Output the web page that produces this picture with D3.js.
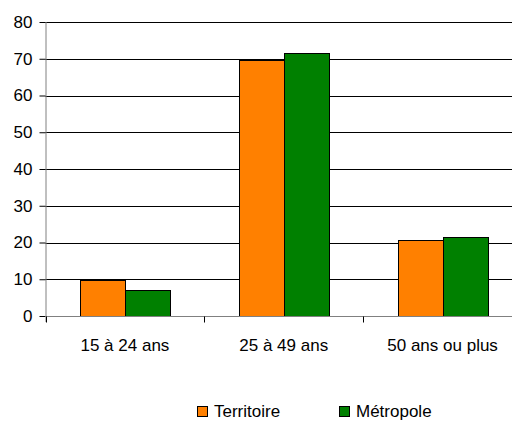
<!DOCTYPE html>
<html><head><meta charset="utf-8">
<script src="https://cdn.jsdelivr.net/npm/d3@7/dist/d3.min.js"></script>
<style>body{margin:0;background:#fff;overflow:hidden}svg{display:block;font-family:"Liberation Sans",Arial,sans-serif}</style>
</head><body>
<script>
const categories = ["15 à 24 ans", "25 à 49 ans", "50 ans ou plus"];
const seriesNames = ["Territoire", "Métropole"];
const territoire = [9.8, 69.7, 20.6];
const metropole = [7.1, 71.5, 21.4];
const yTicks = [0, 10, 20, 30, 40, 50, 60, 70, 80];
const colors = ["#FF8000", "#008000"];

const W = 512, H = 421;
const mLeft = 45.5, mRight = 522, mTop = 22, mBottom = 316;
const FS = 17;
const svg = d3.select("body").append("svg").attr("width", W).attr("height", H);

const x = d3.scaleBand().domain(categories).range([mLeft, mRight]).paddingInner(0).paddingOuter(0);
const x1 = d3.scaleBand().domain(seriesNames).range([0, x.bandwidth()]).paddingInner(0).paddingOuter(0.77);
const y = d3.scaleLinear().domain([0, 80]).range([mBottom, mTop]);

// gridlines
svg.append("g").selectAll("line").data(yTicks.filter(d => d > 0)).join("line")
  .attr("x1", mLeft).attr("x2", W).attr("y1", d => Math.round(y(d)) + 0.5).attr("y2", d => Math.round(y(d)) + 0.5)
  .attr("stroke", "#000").attr("stroke-width", 1);

// bars
const data = categories.map((c, i) => ({c, vals: [territoire[i], metropole[i]]}));
const g = svg.append("g");
data.forEach(d => {
  d.vals.forEach((v, j) => {
    g.append("rect")
      .attr("x", Math.round(x(d.c) + x1(seriesNames[j])) + 0.5)
      .attr("y", Math.round(y(v)) + 0.5)
      .attr("width", Math.round(x1.bandwidth()))
      .attr("height", Math.round(y(0)) - Math.round(y(v)))
      .attr("fill", colors[j]).attr("stroke", "#000").attr("stroke-width", 1);
  });
});

// y axis
const yAxis = d3.axisLeft(y).tickValues(yTicks).tickSize(6).tickPadding(7);
const ya = svg.append("g").attr("transform", `translate(${mLeft},0)`).call(yAxis);
ya.select(".domain").attr("stroke", "#808080").attr("d", `M0.5,${mTop}V${mBottom + 6}`);
ya.selectAll(".tick line").attr("stroke", "#000");
ya.selectAll(".tick text").attr("font-size", FS).attr("fill", "#000").attr("font-family", "Liberation Sans, Arial, sans-serif");

// x axis
const xa = svg.append("g").attr("transform", `translate(0,${Math.round(mBottom) + 0.5})`);
xa.append("line").attr("x1", mLeft).attr("x2", W).attr("stroke", "#808080");
xa.selectAll("line.t").data(categories).join("line").attr("class", "t")
  .attr("x1", d => Math.round(x(d)) + 0.5).attr("x2", d => Math.round(x(d)) + 0.5)
  .attr("y1", 0).attr("y2", 6).attr("stroke", "#000");
xa.selectAll("text").data(categories).join("text")
  .attr("x", d => x(d) + x.bandwidth() / 2).attr("y", 34)
  .attr("text-anchor", "middle").attr("font-size", FS).attr("fill", "#000").text(d => d);

// legend
const leg = svg.append("g");
const legX = [197, 339];
seriesNames.forEach((s, i) => {
  leg.append("rect").attr("x", legX[i] + 0.5).attr("y", 406.5).attr("width", 10).attr("height", 10)
    .attr("fill", colors[i]).attr("stroke", "#000");
  leg.append("text").attr("x", legX[i] + 17).attr("y", 417).attr("font-size", FS).attr("fill", "#000").text(s);
});
</script>
</body></html>
